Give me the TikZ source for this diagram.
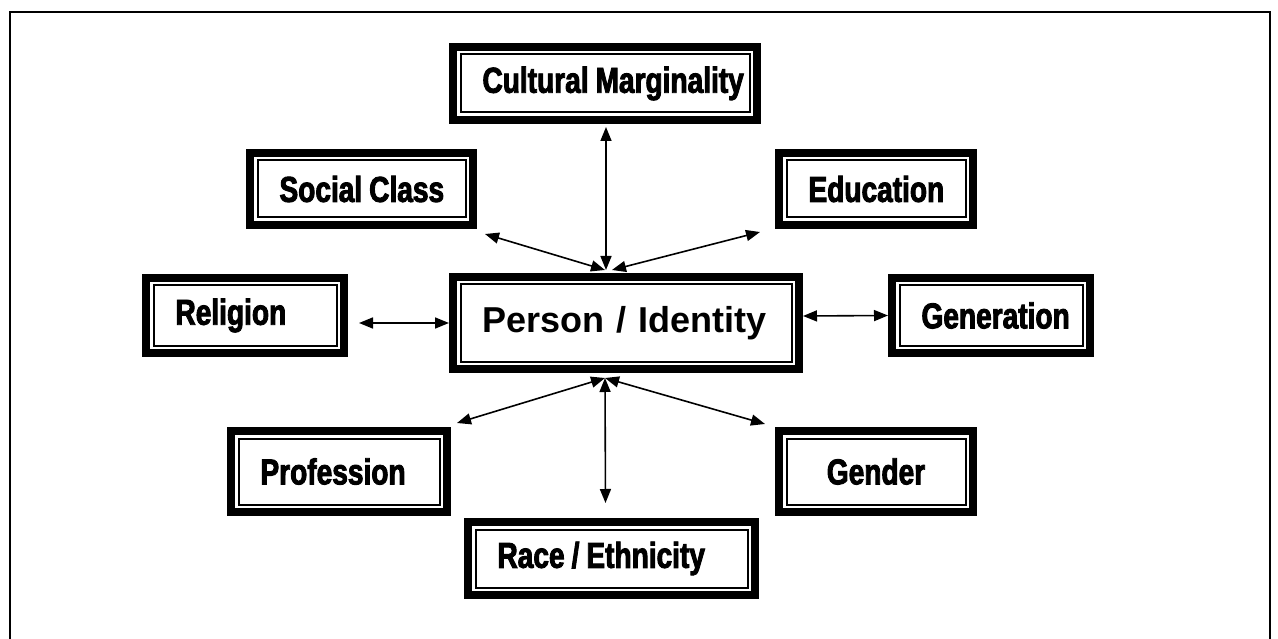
\documentclass[tikz,border=0pt]{standalone}
\usepackage{fontspec}
\setmainfont{Liberation Sans}
\newfontfamily\condfont{Liberation Sans}[FakeStretch=0.78,FakeBold=2.5]
\usetikzlibrary{arrows.meta}
\newcommand{\tagText}[2][7pt]{\spaceskip=#1\relax\mbox{#2}}
\tikzstyle{pageFrame} = [line width=2.5pt]
\tikzstyle{tagBox} = [draw, line width=8pt, fill=white, inner xsep=29.5pt, inner ysep=0pt, align=left, font=\condfont\bfseries\fontsize{36}{40}\selectfont]
\tikzstyle{personBox} = [tagBox, font=\bfseries\fontsize{36}{40}\selectfont]
\tikzstyle{innerLine} = [line width=2pt]
\tikzstyle{linkArrow} = [{Triangle[length=14pt,width=11pt]}-{Triangle[length=14pt,width=11pt]}, line width=1.6pt]
\newcommand{\innerFrame}[1]{\draw [innerLine] ([shift={(11.5,11.5)}]#1.north west) rectangle ([shift={(-11.5,-11.5)}]#1.south east);}
\begin{document}
\begin{tikzpicture}[x=1pt, y=-1pt]
\useasboundingbox (0,0) rectangle (1278,639);
\draw [pageFrame] (10,639) -- (10,12) -- (1270,12) -- (1270,639);
% boxes round the person
\node [tagBox, text width=245pt, minimum height=73pt] (cult) at (605,83.5) {\tagText{Cultural Marginality}};
\node [tagBox, text width=164pt, minimum height=72pt] (social) at (361.5,189) {\tagText{Social Class}};
\node [tagBox, text width=135pt, minimum height=72pt] (edu) at (876,189) {\tagText{Education}};
\node [tagBox, text width=139pt, minimum height=75pt] (relig) at (245,315.5) {\tagText{Religion}};
\node [personBox, text width=287pt, minimum height=92pt] (person) at (626,323) {\tagText[12pt]{Person / Identity}};
\node [tagBox, text width=139pt, minimum height=75pt] (gen) at (991,315.5) {\tagText{Generation}};
\node [tagBox, text width=157pt, minimum height=81pt] (prof) at (339,471.5) {\tagText{Profession}};
\node [tagBox, text width=135pt, minimum height=81pt, align=center] (gender) at (876,471.5) {\tagText{Gender}};
\node [tagBox, text width=228pt, minimum height=73pt] (race) at (611.5,558.5) {\tagText{Race / Ethnicity}};
\foreach \n in {cult,social,edu,relig,person,gen,prof,gender,race} {\innerFrame{\n}}
% links
\draw [linkArrow] ([shift={(1,3)}]cult.south) -- ([shift={(-20,-3)}]person.north);
\draw [linkArrow] ([shift={(8,5)}]social.south east) -- ([shift={(-21,-3)}]person.north);
\draw [linkArrow] ([shift={(-15,3)}]edu.south west) -- ([shift={(-14,-3)}]person.north);
\draw [linkArrow] ([shift={(11,7.5)}]relig.east) -- (person.west);
\draw [linkArrow] ([shift={(0,-7)}]person.east) -- (gen.west);
\draw [linkArrow] ([shift={(-21,5)}]person.south) -- ([shift={(6,-4)}]prof.north east);
\draw [linkArrow] ([shift={(-21,5)}]person.south) -- ([shift={(-10,-3)}]gender.north west);
\draw [linkArrow] ([shift={(-21,5)}]person.south) -- ([shift={(-6,-15)}]race.north);
\end{tikzpicture}
\end{document}
